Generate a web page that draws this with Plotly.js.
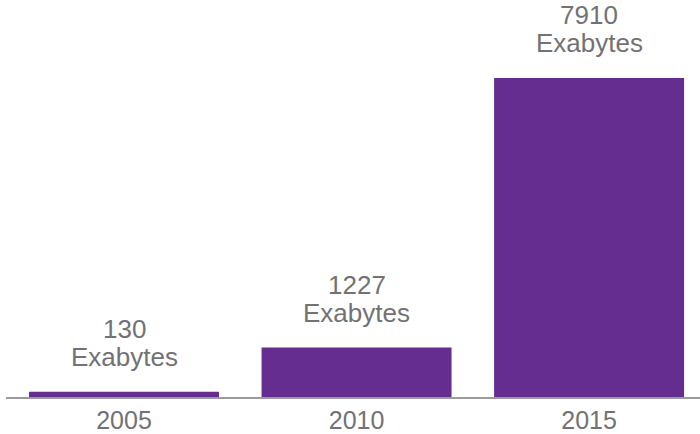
<!DOCTYPE html>
<html>
<head>
<meta charset="utf-8">
<script src="https://cdn.plot.ly/plotly-3.0.1.min.js"></script>
<style>html,body{margin:0;padding:0;background:#fff;}#chart{width:700px;height:434px;}</style>
</head>
<body>
<div id="chart"></div>
<script>
const years = ["2005", "2010", "2015"];
const exabytes = [130, 1227, 7910];
const unitLabel = "Exabytes";

const barColor = "#652d90";
const textColor = "#727274";
const font = "Liberation Sans, Arial, Helvetica, sans-serif";

const annotations = [];
years.forEach((yr, i) => {
  annotations.push({
    x: i, y: exabytes[i], xref: "x", yref: "y",
    text: String(exabytes[i]), showarrow: false,
    yanchor: "bottom", yshift: 47, borderpad: 0,
    font: {family: font, size: 26, color: textColor}
  });
  annotations.push({
    x: i, y: exabytes[i], xref: "x", yref: "y",
    text: unitLabel, showarrow: false,
    yanchor: "bottom", yshift: 19, borderpad: 0,
    font: {family: font, size: 26, color: textColor}
  });
});

const data = [{
  type: "bar",
  x: years,
  y: exabytes,
  marker: {color: barColor},
  hoverinfo: "x+y"
}];

const layout = {
  width: 700, height: 434,
  margin: {l: 6, r: 0, t: 0, b: 37},
  paper_bgcolor: "#fff", plot_bgcolor: "#fff",
  bargap: 0.183,
  showlegend: false,
  xaxis: {
    type: "category",
    range: [-0.5075, 2.477],
    showline: true, linecolor: "#9b9b9d", linewidth: 2,
    ticks: "", showgrid: false, zeroline: false,
    tickfont: {family: font, size: 25, color: textColor}
  },
  yaxis: {
    range: [0, 9844],
    visible: false, showgrid: false, zeroline: false, fixedrange: true
  },
  annotations: annotations
};

Plotly.newPlot("chart", data, layout, {displayModeBar: false, staticPlot: true});
</script>
</body>
</html>
